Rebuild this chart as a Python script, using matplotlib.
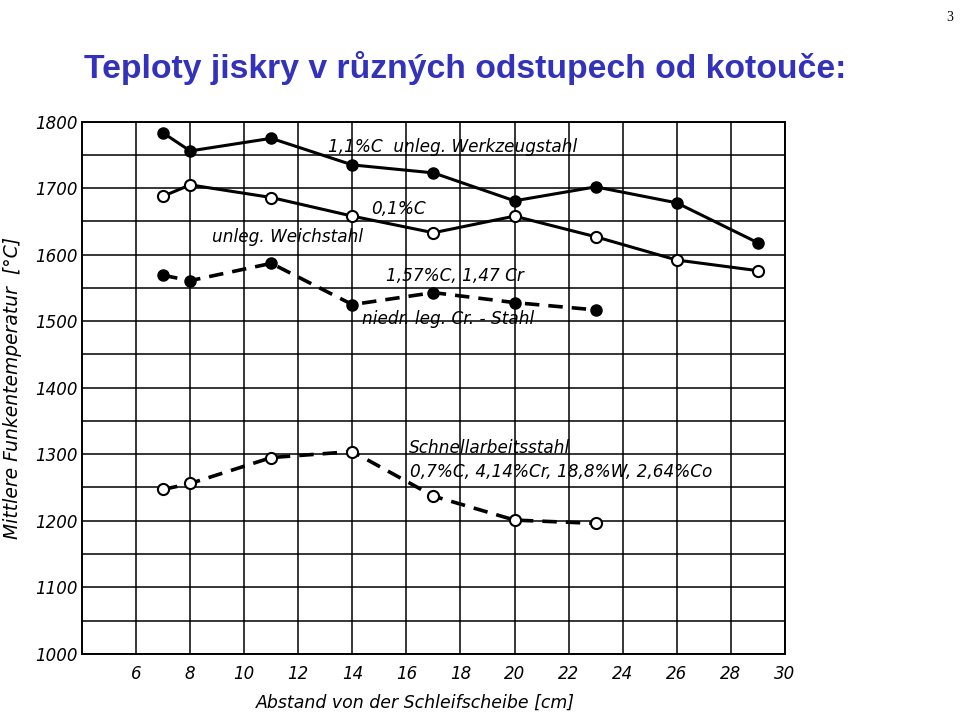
import numpy as np
import matplotlib.pyplot as plt

# Abstand von der Schleifscheibe [cm]
dist_long = [7, 8, 11, 14, 17, 20, 23, 26, 29]
dist_short = [7, 8, 11, 14, 17, 20, 23]

# mittlere Funkentemperatur [C]
werkzeugstahl = [1783, 1756, 1775, 1735, 1723, 1681, 1702, 1678, 1618]   # 1,1% C
weichstahl = [1688, 1705, 1686, 1658, 1633, 1658, 1627, 1592, 1576]      # 0,1% C
cr_stahl = [1569, 1561, 1587, 1525, 1543, 1528, 1517]                    # 1,57% C, 1,47 Cr
schnellarbeit = [1247, 1256, 1295, 1304, 1237, 1201, 1196]               # HSS

xticks = [6, 8, 10, 12, 14, 16, 18, 20, 22, 24, 26, 28, 30]
yticks = [1000, 1100, 1200, 1300, 1400, 1500, 1600, 1700, 1800]

fig = plt.figure(figsize=(9.6, 7.2), dpi=100)
fig.text(0.087, 0.892, 'Teploty jiskry v různých odstupech od kotouče:',
         fontsize=24.3, fontweight='bold', color='#3232bc', family='Liberation Sans')
fig.text(0.993, 0.985, '3', fontsize=10, ha='right', va='top', family='Liberation Serif')

ax = fig.add_axes([0.0855, 0.092, 0.732, 0.739])

lw = 2.2
ax.plot(dist_long, werkzeugstahl, '-', color='k', lw=lw, marker='o', ms=8,
        mfc='k', mec='k', zorder=3)
ax.plot(dist_long, weichstahl, '-', color='k', lw=lw, marker='o', ms=8,
        mfc='white', mec='k', mew=1.5, zorder=3)
ax.plot(dist_short, cr_stahl, '--', color='k', lw=2.6, dashes=(4, 2.5), marker='o', ms=8,
        mfc='k', mec='k', zorder=3)
ax.plot(dist_short, schnellarbeit, '--', color='k', lw=2.6, dashes=(4, 2.5), marker='o', ms=8,
        mfc='white', mec='k', mew=1.5, zorder=3)

ax.set_xlim(4, 30)
ax.set_ylim(1000, 1800)
ax.set_xticks(xticks)
ax.set_yticks(yticks)
ax.set_yticks(np.arange(1050, 1800, 100), minor=True)
ax.grid(True, which='both', color='k', lw=1.1)
ax.tick_params(which='both', length=0)
ax.tick_params(axis='x', pad=8)
for lab in ax.get_xticklabels() + ax.get_yticklabels():
    lab.set_fontstyle('italic')
    lab.set_fontsize(12)
for s in ax.spines.values():
    s.set_linewidth(1.4)

txt = dict(fontsize=12.2, style='italic', va='center', ha='left')
ax.text(13.1, 1762, '1,1%C  unleg. Werkzeugstahl', **txt)
ax.text(14.7, 1668, '0,1%C', **txt)
ax.text(8.8, 1626, 'unleg. Weichstahl', **txt)
ax.text(15.25, 1568, '1,57%C, 1,47 Cr', **txt)
ax.text(14.35, 1503, 'niedr. leg. Cr. - Stahl', **txt)
ax.text(16.1, 1310, 'Schnellarbeitsstahl', **txt)
ax.text(16.15, 1273, '0,7%C, 4,14%Cr, 18,8%W, 2,64%Co', **txt)

ax.set_xlabel('Abstand von der Schleifscheibe [cm]', fontsize=12.5, style='italic')
ax.set_ylabel('Mittlere Funkentemperatur  [°C]', fontsize=13.5, style='italic')
ax.xaxis.set_label_coords(0.475, -0.075)
ax.yaxis.set_label_coords(-0.085, 0.5)

fig.savefig('out.png', dpi=100)
